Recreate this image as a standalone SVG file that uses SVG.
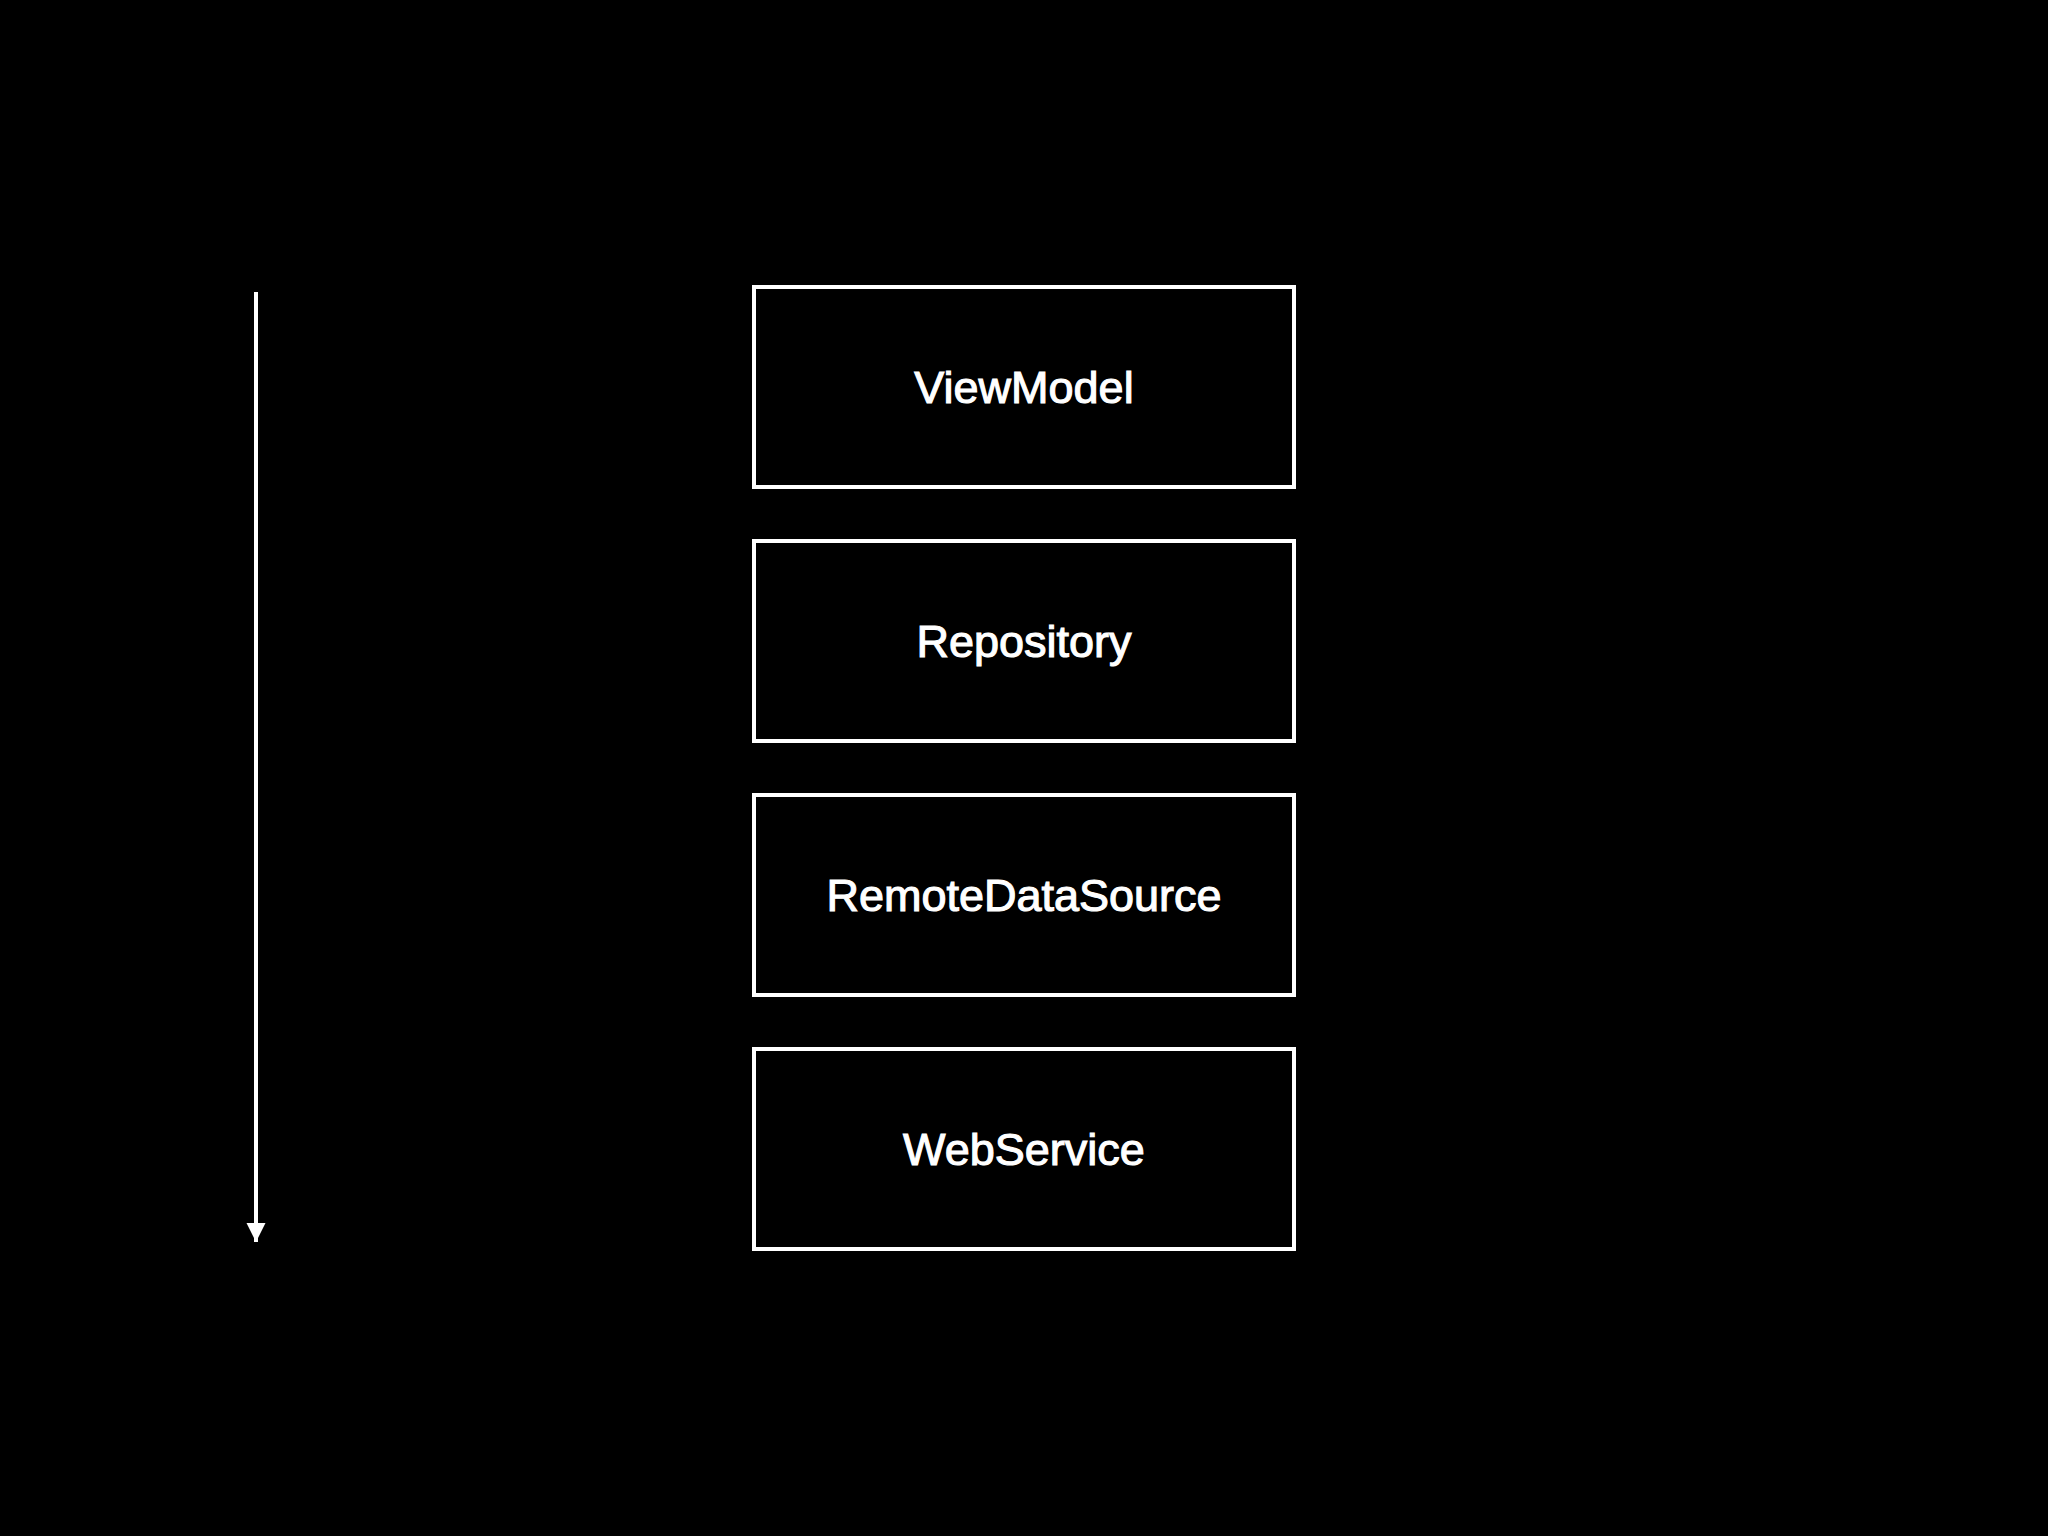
<svg xmlns="http://www.w3.org/2000/svg" width="2048" height="1536" viewBox="0 0 2048 1536">
<style>
.box{fill:#000;stroke:#fff;stroke-width:4}
.lbl{fill:#fff;stroke:#fff;stroke-width:1.1;font-family:"Liberation Sans",Arial,sans-serif;font-size:45px;text-anchor:middle}
</style>
<defs>
<marker id="ah" markerUnits="userSpaceOnUse" markerWidth="20" markerHeight="20" refX="19" refY="9.5" orient="auto">
<path d="M0,0 L19,9.5 L0,19 Z" fill="#fff"/>
</marker>
</defs>
<rect width="2048" height="1536" fill="#000"/>
<g id="connectors">
<line x1="256" y1="292" x2="256" y2="1242" stroke="#fff" stroke-width="4" marker-end="url(#ah)"/>
</g>
<g id="viewmodel">
<rect class="box" x="754" y="287" width="540" height="200"/>
<text class="lbl" x="1024" y="403">ViewModel</text>
</g>
<g id="repository">
<rect class="box" x="754" y="541" width="540" height="200"/>
<text class="lbl" x="1024" y="657">Repository</text>
</g>
<g id="remotedatasource">
<rect class="box" x="754" y="795" width="540" height="200"/>
<text class="lbl" x="1024" y="911">RemoteDataSource</text>
</g>
<g id="webservice">
<rect class="box" x="754" y="1049" width="540" height="200"/>
<text class="lbl" x="1024" y="1165">WebService</text>
</g>
</svg>
